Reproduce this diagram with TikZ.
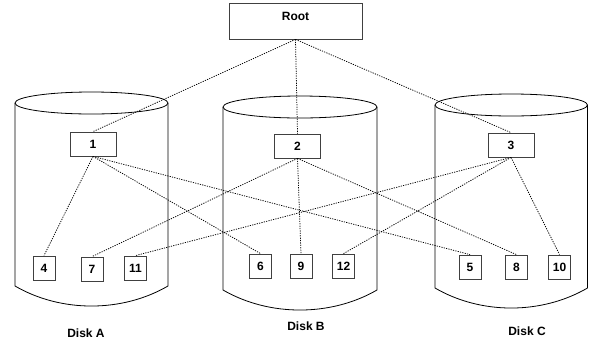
\documentclass[tikz,border=0pt]{standalone}
\usepackage{fontspec}
\setmainfont{Liberation Sans}
\begin{document}
\begin{tikzpicture}[x=1pt,y=-1pt,
  box/.style={draw=black!75,fill=white,line width=0.8pt,minimum width=46pt,minimum height=24pt,inner sep=0pt,font=\fontsize{12}{14}\selectfont\bfseries},
  leaf/.style={box,minimum width=22pt},
  link/.style={line width=0.75pt,dash pattern=on 1.2pt off 1.2pt},
  disk/.style={line width=0.8pt}]
\useasboundingbox (0,0) rectangle (589,341);
% disks
\draw[disk] (91.5,103) ellipse [x radius=76.5pt,y radius=11pt];
\draw[disk] (15,103) -- (15,286) .. controls (61,312.7) and (122,312.7) .. (168,286) -- (168,103);
\draw[disk] (300,107) ellipse [x radius=77pt,y radius=11pt];
\draw[disk] (223,107) -- (223,290) .. controls (269.2,316.7) and (330.8,316.7) .. (377,290) -- (377,107);
\draw[disk] (511.25,105) ellipse [x radius=76.25pt,y radius=11pt];
\draw[disk] (435,105) -- (435,288) .. controls (480.9,314.7) and (541.6,314.7) .. (587.5,288) -- (587.5,105);
% root and index nodes
\node[box,minimum width=133pt,minimum height=36pt,text height=17pt,text depth=19pt] (root) at (295.5,21) {Root};
\node[box] (n1) at (93,144) {1};
\node[box] (n2) at (297.5,146) {2};
\node[box] (n3) at (511,145) {3};
% leaves
\node[leaf] (l4) at (44,268) {4};
\node[leaf] (l7) at (92,269) {7};
\node[leaf] (l11) at (135.5,268) {11};
\node[leaf] (l6) at (260.5,266) {6};
\node[leaf] (l9) at (301,266) {9};
\node[leaf] (l12) at (343.5,266) {12};
\node[leaf] (l5) at (470,267) {5};
\node[leaf] (l8) at (516.5,267) {8};
\node[leaf] (l10) at (559.5,267) {10};
% links
\draw[link] (root.south) -- (n1.north);
\draw[link] (root.south) -- (n2.north);
\draw[link] (root.south) -- (n3.north);
\draw[link] (n1.south) -- (l4.north);
\draw[link] (n1.south) -- (l6.north);
\draw[link] (n1.south) -- (l5.north);
\draw[link] (n2.south) -- (l7.north);
\draw[link] (n2.south) -- (l9.north);
\draw[link] (n2.south) -- (l8.north);
\draw[link] (n3.south) -- (l11.north);
\draw[link] (n3.south) -- (l12.north);
\draw[link] (n3.south) -- (l10.north);
% labels
\node[font=\fontsize{12}{14}\selectfont\bfseries] (da) at (86,333) {Disk A};
\node[font=\fontsize{12}{14}\selectfont\bfseries] (db) at (306,326) {Disk B};
\node[font=\fontsize{12}{14}\selectfont\bfseries] (dc) at (527,331) {Disk C};
\end{tikzpicture}
\end{document}
